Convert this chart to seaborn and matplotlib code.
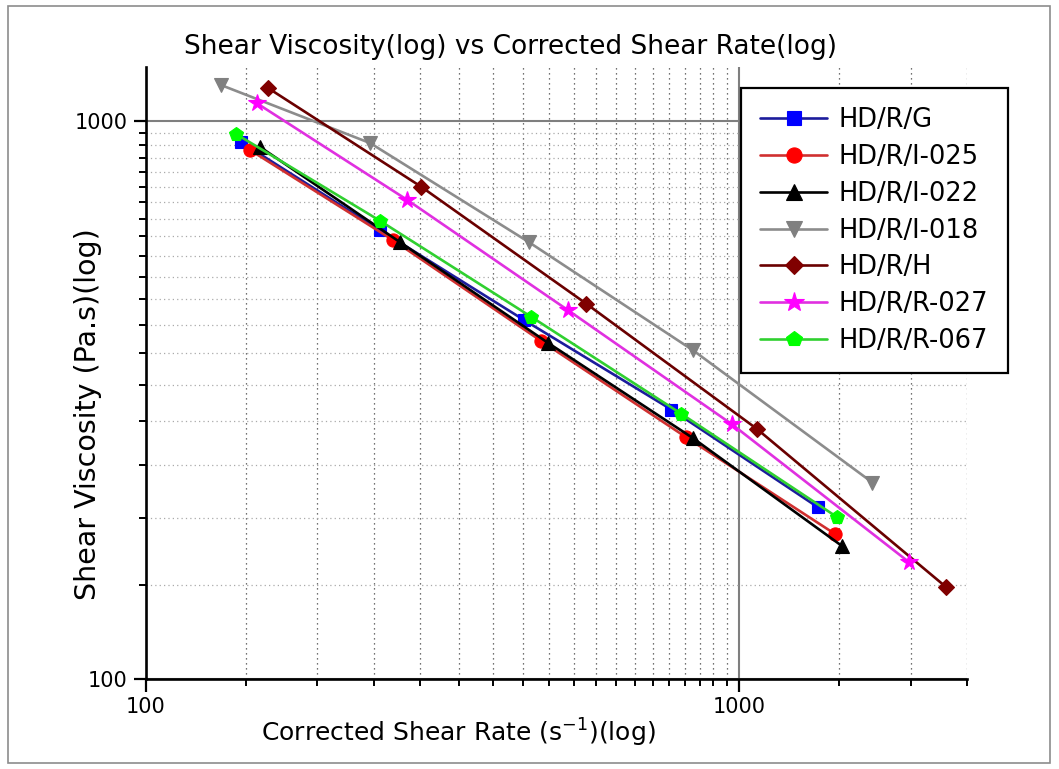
import matplotlib
matplotlib.use("Agg")
import matplotlib.pyplot as plt
import seaborn as sns
from matplotlib.ticker import FixedLocator, FixedFormatter, NullFormatter
from matplotlib.patches import Rectangle

# ---- data: corrected shear rate (1/s) vs shear viscosity (Pa.s) ----
series_names = ["HD/R/G", "HD/R/I-025", "HD/R/I-022", "HD/R/I-018",
                "HD/R/H", "HD/R/R-027", "HD/R/R-067"]

rate_g = [145, 248, 434, 769, 1359]
visc_g = [916, 638, 440, 304, 203]

rate_i025 = [150, 261, 463, 815, 1450]
visc_i025 = [887, 612, 404, 271, 182]

rate_i022 = [156, 268, 477, 837, 1492]
visc_i022 = [898, 607, 400, 270, 173]

rate_i018 = [134, 239, 442, 837, 1677]
visc_i018 = [1160, 913, 607, 388, 225]

rate_h = [161, 291, 552, 1070, 2235]
visc_h = [1145, 763, 471, 281, 146]

rate_r027 = [154, 276, 515, 973, 1933]
visc_r027 = [1076, 722, 458, 286, 162]

rate_r067 = [142, 248, 446, 798, 1463]
visc_r067 = [948, 663, 446, 299, 195]

x_major_ticks = [100, 1000]
x_tick_labels = ["100", "1000"]
y_major_ticks = [100, 1000]
y_tick_labels = ["100", "1000"]

# ---- styling ----
sns.set_style("ticks")
plt.rcParams["font.family"] = ["DejaVu Sans"]
plt.rcParams["mathtext.fontset"] = "dejavusans"
for key in ["text.color", "axes.labelcolor", "xtick.color", "ytick.color"]:
    plt.rcParams[key] = "black"

rates = [rate_g, rate_i025, rate_i022, rate_i018, rate_h, rate_r027, rate_r067]
viscs = [visc_g, visc_i025, visc_i022, visc_i018, visc_h, visc_r027, visc_r067]
line_colors = ["#1c1c9c", "#d03030", "#000000", "#8c8c8c", "#6a0000", "#e030e0", "#30d030"]
marker_colors = ["#0000ff", "#ff0000", "#000000", "#808080", "#800000", "#ff00ff", "#00ff00"]
markers = ["s", "o", "^", "v", "D", "*", "p"]
marker_sizes = [8.5, 9.5, 10.5, 10.5, 8, 13, 10]

W, H = 1059, 769
fig = plt.figure(figsize=(W / 100, H / 100), dpi=100)
ax_left, ax_right, ax_bottom, ax_top = 145.7, 967.0, 679.0, 67.0
ax = fig.add_axes([ax_left / W, 1 - ax_bottom / H,
                   (ax_right - ax_left) / W, (ax_bottom - ax_top) / H])

for name, xs, ys, lc, mc, m, ms in zip(series_names, rates, viscs, line_colors,
                                       marker_colors, markers, marker_sizes):
    sns.lineplot(x=xs, y=ys, ax=ax, sort=False, errorbar=None,
                 color=lc, linewidth=1.9, marker=m, markersize=ms,
                 markerfacecolor=mc, markeredgecolor=mc, markeredgewidth=0.8,
                 label=name)

ax.set_xscale("log")
ax.set_yscale("log")
ax.set_xlim(100, 1000 + 3 * 9000 / 19)
ax.set_ylim(100, 1250)

# major ticks at the decades, evenly spaced minor ticks inside each decade
x_minor = [100 + 900 * k / 19 for k in range(1, 19)] + [1000 + 9000 * k / 19 for k in range(1, 4)]
y_minor = [100 + 900 * k / 19 for k in range(1, 19)]
ax.xaxis.set_major_locator(FixedLocator(x_major_ticks))
ax.xaxis.set_major_formatter(FixedFormatter(x_tick_labels))
ax.xaxis.set_minor_locator(FixedLocator(x_minor))
ax.xaxis.set_minor_formatter(NullFormatter())
ax.yaxis.set_major_locator(FixedLocator(y_major_ticks))
ax.yaxis.set_major_formatter(FixedFormatter(y_tick_labels))
ax.yaxis.set_minor_locator(FixedLocator(y_minor))
ax.yaxis.set_minor_formatter(NullFormatter())

ax.tick_params(which="both", bottom=True, left=True, top=False, right=False)
ax.tick_params(which="major", direction="out", length=9, width=1.6,
               labelsize=15, pad=4, color="black", labelcolor="black")
ax.tick_params(which="minor", direction="out", length=5, width=1.4, color="black")

for side in ["top", "right"]:
    ax.spines[side].set_visible(False)
for side in ["left", "bottom"]:
    ax.spines[side].set_linewidth(1.9)
    ax.spines[side].set_color("black")

ax.set_axisbelow(True)
ax.xaxis.grid(True, which="minor", color="#444444", linestyle=(0, (1, 3)), linewidth=0.9)
ax.yaxis.grid(True, which="minor", color="#aaaaaa", linestyle=(0, (1, 2.5)), linewidth=0.9)
ax.xaxis.grid(True, which="major", color="#7f7f7f", linestyle="-", linewidth=1.5)
ax.yaxis.grid(True, which="major", color="#7f7f7f", linestyle="-", linewidth=1.5)

# titles and axis labels
span_x = ax_right - ax_left
span_y = ax_bottom - ax_top
ax.set_title("Shear Viscosity(log) vs Corrected Shear Rate(log)", fontsize=19,
             x=(510 - ax_left) / span_x, y=(ax_bottom - 47) / span_y,
             va="center", pad=0, color="black")
ax.set_xlabel("Corrected Shear Rate (s$^{-1}$)(log)", fontsize=18)
ax.xaxis.set_label_coords((458 - ax_left) / span_x, (ax_bottom - 733) / span_y)
ax.xaxis.label.set_va("center")
ax.set_ylabel("Shear Viscosity (Pa.s)(log)", fontsize=20.5)
ax.yaxis.set_label_coords((88 - ax_left) / span_x, (ax_bottom - 414) / span_y)
ax.yaxis.label.set_va("center")

leg = ax.legend(loc="upper left", bbox_to_anchor=(741 / W, 1 - 88 / H),
                bbox_transform=fig.transFigure, fontsize=18.5, frameon=True,
                fancybox=False, shadow=False, framealpha=1, edgecolor="black",
                handlelength=2.6, handletextpad=0.45, labelspacing=0.42,
                borderpad=0.75, numpoints=1, borderaxespad=0, markerscale=1.15)
leg.get_frame().set_linewidth(1.6)
for txt in leg.get_texts():
    txt.set_color("black")

# thin outer frame around the whole figure
fig.patches.append(Rectangle((8 / W, 6 / H), (1050 - 8) / W, (763 - 6) / H,
                             transform=fig.transFigure, fill=False,
                             edgecolor="#8c8c8c", linewidth=1.2))

fig.savefig("out.png", dpi=100)
